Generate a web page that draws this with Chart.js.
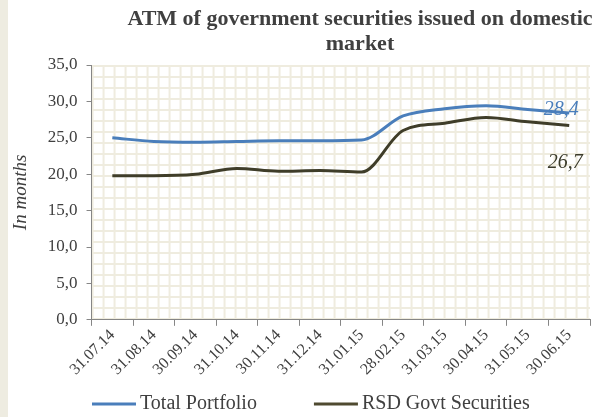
<!DOCTYPE html>
<html>
<head>
<meta charset="utf-8">
<script src="https://cdn.jsdelivr.net/npm/chart.js@4/dist/chart.umd.min.js"></script>
<style>
  html, body { margin: 0; padding: 0; background: #fff; }
  #wrap { position: relative; width: 602px; height: 417px; background: #fff; }
  #strip { position: absolute; left: 0; top: 0; width: 8px; height: 417px; background: #eeece1; }
  #atmChart { position: absolute; left: 0; top: 0; }
</style>
</head>
<body>
<div id="wrap">
  <div id="strip"></div>
  <canvas id="atmChart" width="602" height="417"></canvas>
</div>
<script>
// Datoer (kategorier)
const dates = ['31.07.14', '31.08.14', '30.09.14', '31.10.14', '30.11.14', '31.12.14',
               '31.01.15', '28.02.15', '31.03.15', '30.04.15', '31.05.15', '30.06.15'];

// Serier, i måneder
const totalPortfolio = [25.0, 24.5, 24.4, 24.5, 24.6, 24.6, 24.7, 28.0, 29.0, 29.4, 28.9, 28.4];
const rsdGovt = [19.8, 19.8, 20.0, 20.8, 20.4, 20.5, 20.3, 26.0, 27.0, 27.8, 27.2, 26.7];

const yTicks = [0, 5, 10, 15, 20, 25, 30, 35];

const titleLines = ['ATM of government securities issued on domestic', 'market'];

const serif = '"Liberation Serif", "Times New Roman", serif';
const fmt = v => v.toFixed(1).replace('.', ',');
Chart.defaults.font.family = serif;

// Mønster (rutenett) i plottområdet
function gridPattern(c) {
    const p = document.createElement('canvas');
    p.width = 11; p.height = 11;
    const g = p.getContext('2d');
    g.fillStyle = '#ffffff';
    g.fillRect(0, 0, 11, 11);
    g.fillStyle = '#efecdf';
    g.fillRect(0, 0, 11, 2);
    g.fillRect(0, 0, 2, 11);
    return c.createPattern(p, 'repeat');
}

const bgPlugin = {
    id: 'bgPattern',
    beforeDraw(chart) {
        const { ctx, chartArea: a } = chart;
        ctx.save();
        ctx.fillStyle = gridPattern(ctx);
        ctx.translate(a.left, a.top);
        ctx.fillRect(0, 0, a.right - a.left, a.bottom - a.top);
        ctx.restore();
    }
};

// Tittel tegnet selv, sentrert litt til høyre
const titlePlugin = {
    id: 'ownTitle',
    afterDraw(chart) {
        const ctx = chart.ctx;
        ctx.save();
        ctx.font = 'bold 22px ' + serif;
        ctx.fillStyle = '#404040';
        ctx.textAlign = 'center';
        ctx.textBaseline = 'middle';
        ctx.fillText(titleLines[0], 360, 19);
        ctx.fillText(titleLines[1], 360, 44);
        ctx.restore();
    }
};

// Egen forklaring (legend) nederst
const legendPlugin = {
    id: 'ownLegend',
    afterDraw(chart) {
        const ctx = chart.ctx;
        ctx.save();
        ctx.font = '20px ' + serif;
        ctx.textBaseline = 'middle';
        ctx.textAlign = 'left';
        const y = 404;
        let x = 92;
        const colors = ['#4a7ebb', '#4f4a30'];
        chart.data.datasets.forEach((ds, i) => {
            ctx.fillStyle = colors[i];
            ctx.fillRect(x, y - 1.5, 44, 3);
            ctx.fillStyle = '#404040';
            ctx.fillText(ds.label, x + 48, y);
            x += 48 + ctx.measureText(ds.label).width + 57;
        });
        ctx.restore();
    }
};

// Verdi-etiketter på siste punkt
const lastLabels = {
    id: 'lastLabels',
    afterDatasetsDraw(chart) {
        const ctx = chart.ctx;
        ctx.save();
        ctx.font = 'italic 20px ' + serif;
        ctx.textAlign = 'center';
        ctx.textBaseline = 'middle';
        const offsets = [[-8, -3], [-4, 37]];
        chart.data.datasets.forEach((ds, i) => {
            const meta = chart.getDatasetMeta(i);
            const n = ds.data.length - 1;
            const pt = meta.data[n];
            ctx.fillStyle = i === 0 ? '#4a7ebb' : '#3a3a2a';
            ctx.fillText(fmt(ds.data[n]), pt.x + offsets[i][0], pt.y + offsets[i][1]);
        });
        ctx.restore();
    }
};

const ctx = document.getElementById('atmChart').getContext('2d');
new Chart(ctx, {
    type: 'line',
    data: {
        labels: dates,
        datasets: [{
            label: 'Total Portfolio',
            data: totalPortfolio,
            borderColor: '#4a7ebb',
            backgroundColor: '#4a7ebb',
            borderWidth: 3,
            pointRadius: 0,
            cubicInterpolationMode: 'monotone'
        }, {
            label: 'RSD Govt Securities',
            data: rsdGovt,
            borderColor: '#3f3d29',
            backgroundColor: '#3f3d29',
            borderWidth: 3,
            pointRadius: 0,
            cubicInterpolationMode: 'monotone'
        }]
    },
    options: {
        responsive: false,
        animation: false,
        layout: { padding: { top: 65, right: 12, left: 10, bottom: 38 } },
        plugins: {
            title: { display: false },
            tooltip: { enabled: false },
            legend: { display: false }
        },
        scales: {
            x: {
                offset: true,
                grid: { display: true, offset: true, drawOnChartArea: false, drawTicks: true, tickLength: 6, color: '#868686' },
                border: { color: '#868686', width: 1 },
                ticks: {
                    minRotation: 45, maxRotation: 45,
                    color: '#404040',
                    font: { family: serif, size: 16 },
                    padding: 0
                }
            },
            y: {
                min: 0,
                max: 35,
                afterBuildTicks: axis => { axis.ticks = yTicks.map(v => ({ value: v })); },
                grid: { drawOnChartArea: false, drawTicks: true, tickLength: 5, color: '#868686' },
                border: { color: '#868686', width: 1 },
                ticks: {
                    color: '#404040',
                    font: { family: serif, size: 17 },
                    padding: 9,
                    callback: v => fmt(v)
                },
                title: {
                    display: true,
                    text: 'In months',
                    color: '#404040',
                    font: { family: serif, size: 19, style: 'italic' },
                    padding: { top: 0, bottom: 6 }
                }
            }
        }
    },
    plugins: [bgPlugin, titlePlugin, legendPlugin, lastLabels]
});
</script>
</body>
</html>
